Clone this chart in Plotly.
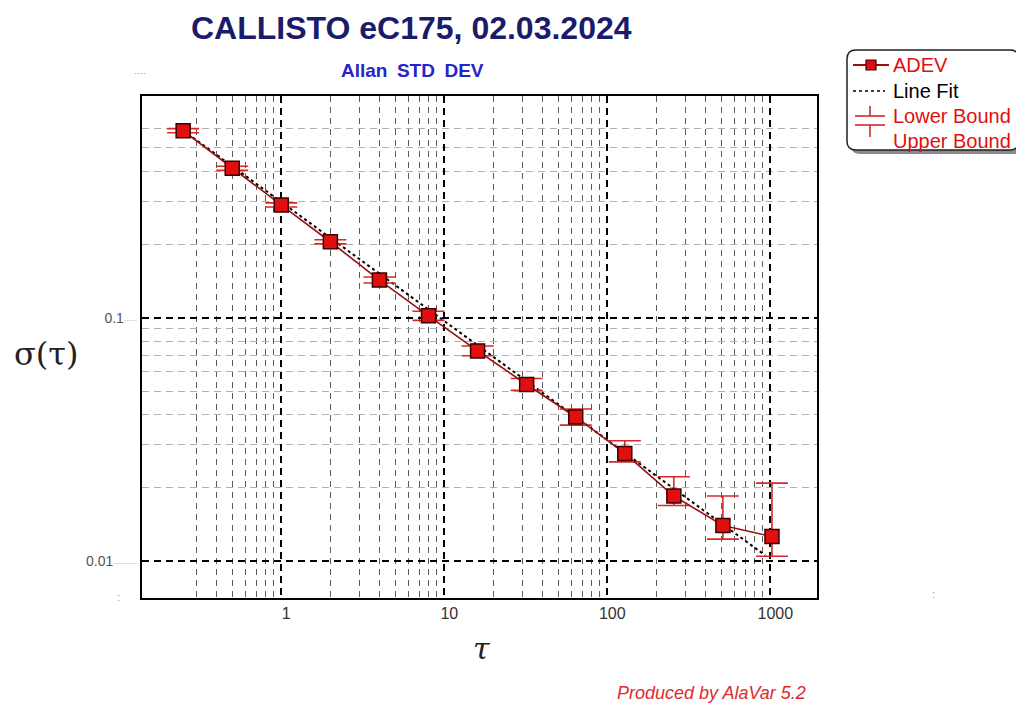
import plotly.graph_objects as go

# ---------------- data ----------------
tau = [0.25, 0.5, 1, 2, 4, 8, 16, 32, 64, 128, 256, 512, 1024]
adev = [0.588, 0.412, 0.291, 0.2055, 0.143, 0.1019, 0.0731, 0.0532,
        0.0391, 0.0277, 0.0185, 0.0140, 0.0126]
upper_bound = [0.600, 0.420, 0.297, 0.2095, 0.1472, 0.1064, 0.0766, 0.0563,
               0.0422, 0.0312, 0.0222, 0.0185, 0.0209]
lower_bound = [0.577, 0.404, 0.2855, 0.2015, 0.139, 0.0976, 0.0698, 0.0503,
               0.0362, 0.02555, 0.0169, 0.0123, 0.01045]

fit_tau = [0.25, 930]
fit_sigma = [0.59, 0.01055]

x_major = [1, 10, 100, 1000]
x_major_labels = ["1", "10", "100", "1000"]
x_minor = [0.3, 0.4, 0.5, 0.6, 0.7, 0.8, 0.9,
           2, 3, 4, 5, 6, 7, 8, 9,
           20, 30, 40, 50, 60, 70, 80, 90,
           200, 300, 400, 500, 600, 700, 800, 900]
y_major = [0.01, 0.1]
y_major_labels = ["0.01", "0.1"]
y_minor = [0.02, 0.03, 0.04, 0.05, 0.06, 0.07, 0.08, 0.09,
           0.2, 0.3, 0.4, 0.5, 0.6]

title_text = "CALLISTO eC175, 02.03.2024"
subtitle_text = "Allan\u2002STD\u2002DEV"
legend_labels = ["ADEV", "Line Fit", "Lower Bound", "Upper Bound"]

# ---------------- layout geometry (reference pixel coords) ----------------
W, H = 1024, 710
OFF = 8                      # page body margin of the browser
L, R, T, B = 142, 817, 96, 598
FW, FH = W - OFF, H - OFF    # figure size


def px(x):
    return (x - L) / (R - L)


def py(y):
    return (B - y) / (B - T)


RED = "#e01010"
DARKRED = "#9a1010"
ERR = "#d42a2a"
ARIAL = "Liberation Sans, Arial, sans-serif"

err_plus = [u - a for u, a in zip(upper_bound, adev)]
err_minus = [a - l for a, l in zip(adev, lower_bound)]

fig = go.Figure()

fig.add_trace(go.Scatter(
    x=fit_tau, y=fit_sigma, mode="lines",
    line=dict(color="black", width=2, dash="dot"),
    showlegend=False, hoverinfo="skip"))

fig.add_trace(go.Scatter(
    x=tau, y=adev, mode="lines+markers",
    line=dict(color=DARKRED, width=1.6),
    marker=dict(symbol="square", size=14, color=RED,
                line=dict(color="#3a0000", width=1.5)),
    error_y=dict(type="data", symmetric=False, array=err_plus,
                 arrayminus=err_minus, color=ERR, thickness=1.6, width=16),
    showlegend=False))

dot_lead = "<span style='font-size:8px;color:#888'>{}</span>"
y_ticktext = [y_major_labels[0] + dot_lead.format("\u00b7" * 9),
              y_major_labels[1] + dot_lead.format("\u00b7" * 5)]

fig.update_xaxes(
    type="log", range=[-0.8546, 3.2865],
    tickmode="array", tickvals=x_major, ticktext=x_major_labels,
    ticks="", tickfont=dict(family=ARIAL, size=16, color="#333"),
    ticklabelshift=5,
    showgrid=True, gridcolor="black", gridwidth=2, griddash="7px,5px",
    showline=True, linecolor="black", linewidth=2, mirror=True,
    zeroline=False,
    minor=dict(tickmode="array", tickvals=x_minor, ticks="", showgrid=True,
               gridcolor="#5a5a5a", gridwidth=1, griddash="6px,5px"))

fig.update_yaxes(
    type="log", range=[-2.1523, -0.0877],
    tickmode="array", tickvals=y_major, ticktext=y_ticktext,
    ticks="", tickfont=dict(family=ARIAL, size=14, color="#555"),
    ticklabelstandoff=0,
    showgrid=True, gridcolor="black", gridwidth=2, griddash="7px,5px",
    showline=True, linecolor="black", linewidth=2, mirror=True,
    zeroline=False,
    minor=dict(tickmode="array", tickvals=y_minor, ticks="", showgrid=True,
               gridcolor="#b0b0b0", gridwidth=1, griddash="7px,5px"))

annotations = [
    dict(text="<b>" + title_text + "</b>", x=px(411), y=py(28),
         font=dict(family=ARIAL, size=32, color="#1b1b6b")),
    dict(text="<b>" + subtitle_text + "</b>", x=px(412), y=py(70),
         font=dict(family=ARIAL, size=19, color="#2525c8")),
    dict(text="\u03c3(\u03c4)", x=px(46), y=py(354),
         font=dict(family="DejaVu Serif, serif", size=32, color="#222")),
    dict(text="<i>\u03c4</i>", x=px(481), y=py(648),
         font=dict(family="DejaVu Serif, serif", size=30, color="#222")),
    dict(text="<i>Produced by AlaVar 5.2</i>", x=px(711), y=py(693),
         font=dict(family=ARIAL, size=18, color="#e02a2a")),
    dict(text="\u00b7\u00b7\u00b7\u00b7", x=px(140), y=py(73),
         font=dict(family=ARIAL, size=9, color="#888")),
    dict(text=":", x=px(118), y=py(597),
         font=dict(family=ARIAL, size=11, color="#999")),
    dict(text=":", x=px(933), y=py(594),
         font=dict(family=ARIAL, size=11, color="#999")),
]
legend_rows_y = [65, 91, 116, 141]
legend_colors = [RED, "black", RED, RED]
for lab, yy, col in zip(legend_labels, legend_rows_y, legend_colors):
    annotations.append(dict(text=lab, x=px(891), y=py(yy), xanchor="left",
                            font=dict(family=ARIAL, size=20, color=col)))
for a in annotations:
    a.setdefault("xanchor", "center")
    a["yanchor"] = "middle"
    a["xref"] = "paper"
    a["yref"] = "paper"
    a["showarrow"] = False


def rounded_rect(x0, y0, x1, y1, r):
    pts = [f"M {px(x0 + r)},{py(y0)}",
           f"L {px(x1 - r)},{py(y0)}",
           f"Q {px(x1)},{py(y0)} {px(x1)},{py(y0 + r)}",
           f"L {px(x1)},{py(y1 - r)}",
           f"Q {px(x1)},{py(y1)} {px(x1 - r)},{py(y1)}",
           f"L {px(x0 + r)},{py(y1)}",
           f"Q {px(x0)},{py(y1)} {px(x0)},{py(y1 - r)}",
           f"L {px(x0)},{py(y0 + r)}",
           f"Q {px(x0)},{py(y0)} {px(x0 + r)},{py(y0)} Z"]
    return " ".join(pts)


def pline(x0, y0, x1, y1, color, width, dash="solid"):
    return dict(type="line", xref="paper", yref="paper",
                x0=px(x0), y0=py(y0), x1=px(x1), y1=py(y1),
                line=dict(color=color, width=width, dash=dash), layer="above")


shapes = [
    dict(type="path", xref="paper", yref="paper",
         path=rounded_rect(851, 54, 1023, 154, 9),
         fillcolor="#8a8a8a", line=dict(width=0), layer="above"),
    dict(type="path", xref="paper", yref="paper",
         path=rounded_rect(847, 50, 1019, 150, 9),
         fillcolor="white", line=dict(color="#222", width=1.5), layer="above"),
    pline(853, 65, 889, 65, DARKRED, 2),
    dict(type="rect", xref="paper", yref="paper",
         x0=px(866), x1=px(876), y0=py(60), y1=py(70),
         fillcolor=RED, line=dict(color="#3a0000", width=1.2), layer="above"),
    pline(853, 91, 885, 91, "black", 1.5, "dot"),
    pline(870, 106, 870, 116, ERR, 1.6),
    pline(855, 116, 885, 116, ERR, 1.6),
    pline(855, 125, 885, 125, ERR, 1.6),
    pline(870, 125, 870, 137, ERR, 1.6),
]

fig.update_layout(
    width=FW, height=FH,
    margin=dict(l=L - OFF, r=FW - (R - OFF), t=T - OFF, b=FH - (B - OFF), pad=0),
    paper_bgcolor="white", plot_bgcolor="white",
    showlegend=False,
    annotations=annotations,
    shapes=shapes,
)

fig.write_html("out.html")
